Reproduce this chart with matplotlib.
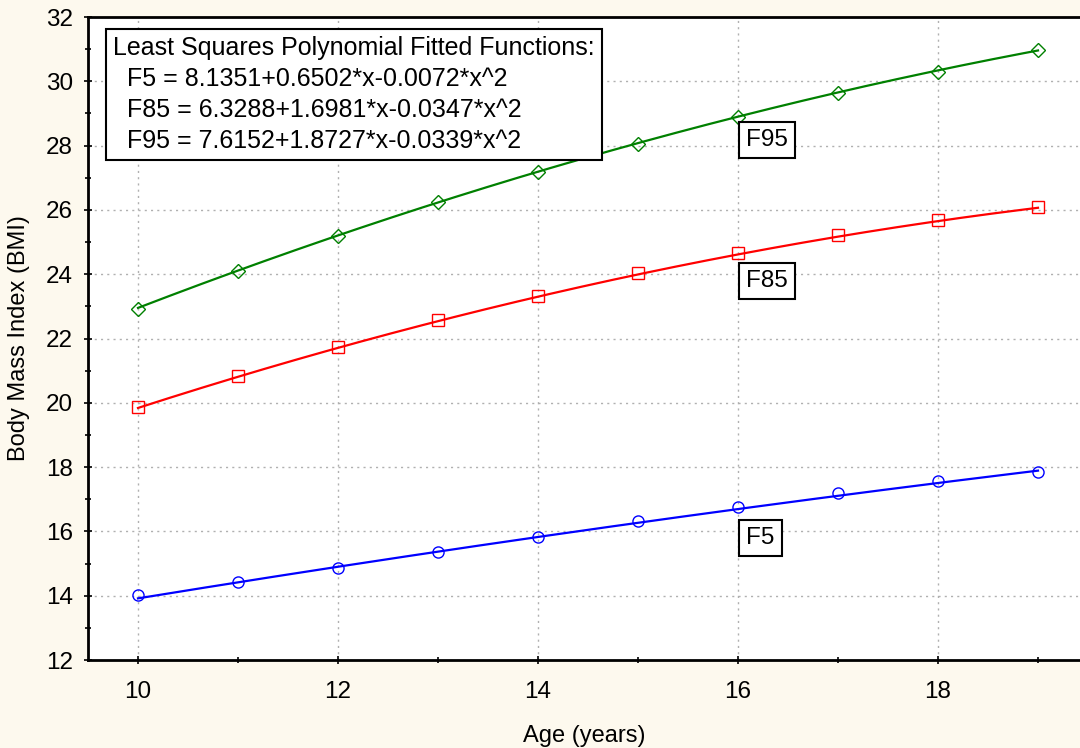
import numpy as np
import matplotlib
matplotlib.use('Agg')
import matplotlib.pyplot as plt
from matplotlib.ticker import MultipleLocator

plt.rcParams['font.family'] = ['Liberation Sans', 'DejaVu Sans']

# observed percentile BMI values by age
ages = [10, 11, 12, 13, 14, 15, 16, 17, 18, 19]
f5 = [14.02, 14.43, 14.86, 15.36, 15.83, 16.32, 16.76, 17.19, 17.57, 17.85]
f85 = [19.87, 20.83, 21.74, 22.58, 23.32, 24.04, 24.66, 25.22, 25.69, 26.09]
f95 = [22.92, 24.10, 25.19, 26.25, 27.18, 28.05, 28.89, 29.64, 30.29, 30.97]

# fitted polynomial coefficients (c0, c1, c2) as printed on the chart
coef_f5 = [8.1351, 0.6502, -0.0072]
coef_f85 = [6.3288, 1.6981, -0.0347]
coef_f95 = [7.6152, 1.8727, -0.0339]

series = [
    ('F5', f5, coef_f5, '#0000ff', 'o', 15.79),
    ('F85', f85, coef_f85, '#ff0000', 's', 23.79),
    ('F95', f95, coef_f95, '#008000', 'D', 28.17),
]

bg = '#fdf9ee'
fig = plt.figure(figsize=(10.8, 7.48), dpi=100, facecolor=bg)
ax = fig.add_axes([88/1080, 88/748, 992/1080, 643/748])
ax.set_facecolor('white')

xs = np.linspace(ages[0], ages[-1], 200)
for name, vals, c, col, mk, ylab in series:
    ax.plot(xs, np.polyval(c[::-1], xs), color=col, lw=1.6, zorder=3)
    ax.plot(ages, vals, ls='none', marker=mk, ms=8 if mk != 'D' else 7,
            mfc='none', mec=col, mew=1.0, zorder=4)
    ax.text(16.08, ylab, name, fontsize=17.5, ha='left', va='center', zorder=5,
            bbox=dict(boxstyle='square,pad=0.3', fc='white', ec='black', lw=1.5))

ax.set_xlim(9.5, 19.42)
ax.set_ylim(12, 32)
ax.xaxis.set_major_locator(MultipleLocator(2))
ax.xaxis.set_minor_locator(MultipleLocator(1))
ax.yaxis.set_major_locator(MultipleLocator(2))
ax.yaxis.set_minor_locator(MultipleLocator(1))
ax.tick_params(which='both', direction='inout', width=1.2, labelsize=17.5, color='black')
ax.tick_params(which='major', length=6, pad=12)
ax.tick_params(which='minor', length=4)
ax.tick_params(axis='y', which='major', pad=8)
ax.grid(True, which='major', ls=(0, (1.5, 3)), color='#b0b0b0', lw=1.0)
ax.set_axisbelow(True)
for s in ['left', 'bottom', 'top']:
    ax.spines[s].set_linewidth(2)
ax.spines['right'].set_visible(False)

ax.set_xlabel('Age (years)', fontsize=17, labelpad=16)
ax.set_ylabel('Body Mass Index (BMI)', fontsize=17, labelpad=11)

box_text = ('Least Squares Polynomial Fitted Functions:\n'
            '  F5 = 8.1351+0.6502*x-0.0072*x^2\n'
            '  F85 = 6.3288+1.6981*x-0.0347*x^2\n'
            '  F95 = 7.6152+1.8727*x-0.0339*x^2')
ax.text(9.75, 31.4, box_text, fontsize=18, ha='left', va='top', linespacing=1.36,
        zorder=6, bbox=dict(boxstyle='square,pad=0.3', fc='white', ec='black', lw=1.5))

fig.savefig('out.png', dpi=100, facecolor=bg)
